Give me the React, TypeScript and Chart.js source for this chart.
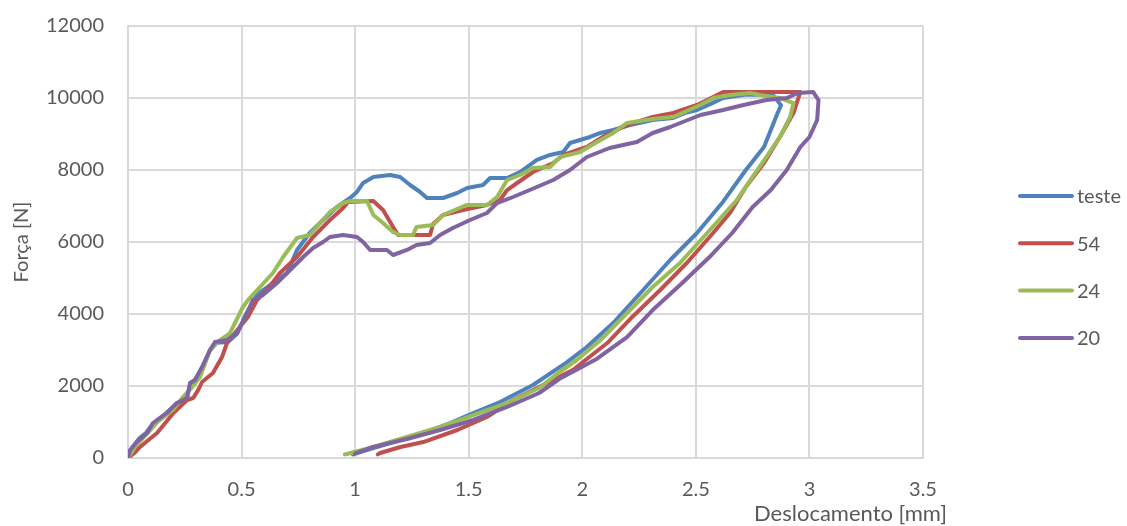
import React, { useEffect, useRef } from 'react';
import { Chart, registerables } from 'chart.js';

Chart.register(...registerables);

// ---- data (x: Deslocamento [mm], y: Força [N]) ----
const seriesLabels = ['teste', '54', '24', '20'];
const seriesColors = ['#4F81BD', '#C0504D', '#9BBB59', '#8064A2'];

const teste: [number, number][] = [
  [0, 0], [0.02, 300], [0.05, 550], [0.08, 700], [0.11, 950], [0.17, 1250], [0.215, 1500], [0.26, 1680],
  [0.275, 2080], [0.295, 2170], [0.33, 2550], [0.36, 2980], [0.39, 3200], [0.44, 3220], [0.48, 3450],
  [0.52, 4000], [0.57, 4550], [0.638, 4861], [0.70, 5139], [0.744, 5778], [0.80, 6250], [0.859, 6611],
  [0.92, 6972], [0.978, 7222], [1.008, 7389], [1.035, 7639], [1.08, 7806], [1.154, 7861], [1.198, 7806],
  [1.242, 7583], [1.286, 7389], [1.316, 7222], [1.387, 7222], [1.449, 7361], [1.493, 7500], [1.563, 7583],
  [1.594, 7778], [1.669, 7778], [1.726, 7944], [1.80, 8278], [1.858, 8417], [1.916, 8500], [1.946, 8750],
  [2.034, 8917], [2.08, 9028], [2.136, 9111], [2.21, 9250], [2.31, 9389], [2.40, 9444], [2.45, 9580],
  [2.505, 9667], [2.57, 9850], [2.62, 10000], [2.72, 10100], [2.84, 10080], [2.875, 9800], [2.86, 9583],
  [2.80, 8640], [2.72, 8000], [2.62, 7120], [2.505, 6250], [2.387, 5500], [2.268, 4667], [2.136, 3750],
  [2.02, 3083], [1.93, 2650], [1.783, 2028], [1.638, 1556], [1.52, 1250], [1.418, 972], [1.30, 694],
  [1.154, 417], [1.008, 139], [0.99, 100],
];

const s54: [number, number][] = [
  [0, 0], [0.03, 150], [0.053, 306], [0.09, 500], [0.128, 694], [0.2, 1250], [0.26, 1611], [0.287, 1667],
  [0.31, 1900], [0.326, 2111], [0.374, 2361], [0.414, 2806], [0.436, 3194], [0.471, 3472], [0.50, 3700],
  [0.528, 3917], [0.568, 4389], [0.612, 4667], [0.669, 5139], [0.744, 5583], [0.815, 6139], [0.889, 6611],
  [0.947, 6944], [0.969, 7111], [1.08, 7139], [1.123, 6889], [1.167, 6417], [1.19, 6194], [1.33, 6194],
  [1.343, 6500], [1.387, 6750], [1.475, 6889], [1.58, 7028], [1.638, 7167], [1.669, 7444], [1.713, 7639],
  [1.783, 7944], [1.872, 8194], [1.916, 8417], [2.02, 8639], [2.09, 8917], [2.197, 9250], [2.31, 9472],
  [2.40, 9583], [2.505, 9806], [2.62, 10167], [2.96, 10167], [2.93, 9583], [2.87, 8917], [2.80, 8194],
  [2.72, 7528], [2.65, 6806], [2.576, 6250], [2.46, 5417], [2.343, 4667], [2.22, 3917], [2.11, 3194],
  [2.02, 2750], [1.96, 2450], [1.81, 1972], [1.695, 1611], [1.58, 1139], [1.45, 778], [1.30, 444],
  [1.20, 306], [1.11, 139], [1.10, 100],
];

const s24: [number, number][] = [
  [0, 0], [0.03, 300], [0.08, 650], [0.13, 1000], [0.2, 1350], [0.242, 1694], [0.28, 1950], [0.317, 2250],
  [0.361, 3000], [0.40, 3250], [0.449, 3472], [0.506, 4194], [0.53, 4400], [0.581, 4750], [0.638, 5139],
  [0.683, 5583], [0.744, 6111], [0.80, 6194], [0.845, 6528], [0.889, 6833], [0.947, 7083], [0.978, 7139],
  [1.052, 7139], [1.08, 6750], [1.123, 6528], [1.167, 6278], [1.198, 6194], [1.255, 6194], [1.27, 6417],
  [1.343, 6472], [1.387, 6750], [1.49, 7028], [1.58, 7028], [1.625, 7250], [1.669, 7722], [1.726, 7861],
  [1.783, 8056], [1.858, 8083], [1.902, 8361], [1.99, 8500], [2.065, 8778], [2.136, 9028], [2.197, 9306],
  [2.31, 9417], [2.40, 9472], [2.52, 9806], [2.577, 10000], [2.65, 10083], [2.74, 10139], [2.78, 10083],
  [2.87, 10000], [2.93, 9861], [2.915, 9472], [2.87, 8917], [2.81, 8361], [2.75, 7806], [2.68, 7167],
  [2.55, 6250], [2.43, 5417], [2.31, 4750], [2.197, 4028], [2.08, 3278], [1.976, 2722], [1.90, 2389],
  [1.81, 1944], [1.669, 1528], [1.52, 1194], [1.374, 861], [1.228, 583], [1.08, 306], [0.964, 111],
  [0.955, 100],
];

const s20: [number, number][] = [
  [0, 0], [0.009, 222], [0.04, 450], [0.084, 694], [0.11, 972], [0.17, 1250], [0.215, 1528], [0.26, 1667],
  [0.273, 2083], [0.295, 2167], [0.326, 2528], [0.361, 3000], [0.383, 3222], [0.436, 3278], [0.48, 3472],
  [0.524, 4028], [0.55, 4389], [0.594, 4528], [0.656, 4861], [0.727, 5306], [0.771, 5583], [0.815, 5833],
  [0.859, 6000], [0.889, 6139], [0.947, 6194], [1.008, 6139], [1.035, 6000], [1.066, 5778], [1.14, 5778],
  [1.167, 5639], [1.228, 5778], [1.27, 5917], [1.33, 5972], [1.374, 6194], [1.43, 6389], [1.506, 6611],
  [1.58, 6806], [1.625, 7083], [1.695, 7250], [1.80, 7528], [1.872, 7722], [1.946, 8000], [2.02, 8361],
  [2.12, 8611], [2.24, 8778], [2.31, 9028], [2.387, 9194], [2.52, 9528], [2.62, 9667], [2.71, 9806],
  [2.81, 9944], [2.90, 10000], [2.95, 10139], [3.016, 10167], [3.04, 9944], [3.034, 9389], [3.0, 8917],
  [2.96, 8639], [2.90, 8000], [2.83, 7444], [2.75, 6972], [2.66, 6250], [2.56, 5583], [2.44, 4861],
  [2.31, 4111], [2.197, 3361], [2.065, 2760], [1.96, 2400], [1.90, 2200], [1.81, 1806], [1.669, 1417],
  [1.52, 1056], [1.374, 778], [1.228, 528], [1.08, 306], [1.008, 139], [1.0, 120],
];

const seriesData = [teste, s54, s24, s20];

const xMin = 0;
const xMax = 3.5;
const xStep = 0.5;
const yMin = 0;
const yMax = 12000;
const yStep = 2000;
const xTitle = 'Deslocamento [mm]';
const yTitle = 'Força [N]';

const FONT = 'Lato';
const TEXT = '#595959';
const GRID = '#D9D9D9';

const plainNumber = (v: number | string) => {
  const n = Number(v);
  return String(Math.round(n * 1000) / 1000);
};

const customDraw = {
  id: 'customDraw',
  afterDraw(chart: any) {
    const ctx = chart.ctx as CanvasRenderingContext2D;
    const area = chart.chartArea;
    ctx.save();
    // x axis title (Excel places it at the right end)
    ctx.fillStyle = TEXT;
    ctx.font = `22px ${FONT}`;
    ctx.textAlign = 'right';
    ctx.textBaseline = 'alphabetic';
    ctx.fillText(xTitle, area.right + 24, 521);
    // legend
    ctx.font = `20px ${FONT}`;
    chart.data.datasets.forEach((ds: any, i: number) => {
      const y = 196 + i * 47.3;
      ctx.strokeStyle = ds.borderColor;
      ctx.lineWidth = 4;
      ctx.lineCap = 'round';
      ctx.beginPath();
      ctx.moveTo(1020, y);
      ctx.lineTo(1072, y);
      ctx.stroke();
      ctx.fillStyle = TEXT;
      ctx.textAlign = 'left';
      ctx.textBaseline = 'middle';
      ctx.fillText(ds.label, 1077, y + 1);
    });
    ctx.restore();
  },
};

export default function App() {
  const ref = useRef<HTMLCanvasElement>(null);

  useEffect(() => {
    if (!ref.current) return;
    const datasets = seriesData.map((pts, i) => ({
      label: seriesLabels[i],
      data: pts.map(([x, y]) => ({ x, y })),
      borderColor: seriesColors[i],
      backgroundColor: seriesColors[i],
      borderWidth: 4,
      showLine: true,
      pointRadius: 0,
      pointHoverRadius: 0,
      tension: 0,
      borderJoinStyle: 'round' as const,
      borderCapStyle: 'round' as const,
      order: seriesData.length - i,
    }));

    const chart = new Chart(ref.current, {
      type: 'scatter',
      data: { datasets },
      plugins: [customDraw],
      options: {
        animation: false,
        responsive: true,
        maintainAspectRatio: false,
        layout: { padding: { top: 26, right: 204, left: 0, bottom: 0 } },
        plugins: {
          legend: { display: false },
          tooltip: { enabled: false },
        },
        scales: {
          x: {
            type: 'linear',
            min: xMin,
            max: xMax,
            afterFit: (s: any) => { s.height = 68; s.paddingLeft = 0; s.paddingRight = 0; },
            ticks: {
              stepSize: xStep,
              color: TEXT,
              font: { family: FONT, size: 20 },
              padding: 20,
              maxRotation: 0,
              callback: (v: any) => plainNumber(v),
            },
            grid: { color: GRID, lineWidth: 2, drawTicks: false },
            border: { color: GRID, width: 2 },
          },
          y: {
            type: 'linear',
            min: yMin,
            max: yMax,
            afterFit: (s: any) => { s.width = 128; s.paddingTop = 0; s.paddingBottom = 0; },
            ticks: {
              stepSize: yStep,
              color: TEXT,
              font: { family: FONT, size: 20 },
              padding: 24,
              callback: (v: any) => plainNumber(v),
            },
            grid: { color: GRID, lineWidth: 2, drawTicks: false },
            border: { color: GRID, width: 2 },
            title: {
              display: true,
              text: yTitle,
              color: TEXT,
              font: { family: FONT, size: 20 },
              padding: { top: 10, bottom: 0 },
            },
          },
        },
      },
    });
    return () => chart.destroy();
  }, []);

  return (
    <div style={{ position: 'fixed', left: 0, top: 0, width: 1127, height: 526, background: '#fff' }}>
      <canvas ref={ref} />
    </div>
  );
}
